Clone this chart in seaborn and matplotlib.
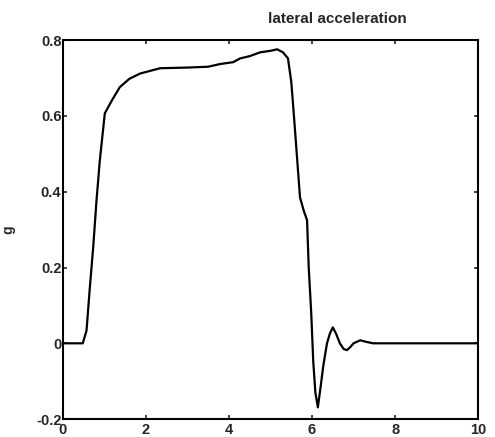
import pandas as pd
import matplotlib
matplotlib.use("Agg")
import matplotlib.pyplot as plt
import seaborn as sns

# time (s) and lateral acceleration (g)
t = [0, 0.48, 0.57, 0.65, 0.73, 0.81, 0.89, 1.01, 1.18, 1.37, 1.6, 1.86,
     2.34, 3.06, 3.5, 3.78, 4.1, 4.27, 4.5, 4.75, 5.0, 5.16, 5.3, 5.42,
     5.5, 5.55, 5.59, 5.71, 5.8, 5.88, 5.92, 5.98, 6.03, 6.08, 6.14, 6.2,
     6.27, 6.36, 6.43, 6.5, 6.58, 6.67, 6.76, 6.84, 6.92, 7.0, 7.16, 7.3,
     7.47, 7.7, 8.0, 10.0]
g = [0, 0, 0.034, 0.148, 0.253, 0.377, 0.483, 0.607, 0.641, 0.676, 0.698, 0.712,
     0.726, 0.728, 0.730, 0.737, 0.742, 0.752, 0.758, 0.768, 0.772, 0.776, 0.768, 0.752,
     0.69, 0.62, 0.562, 0.385, 0.35, 0.325, 0.2, 0.08, -0.05, -0.13, -0.169, -0.12,
     -0.06, 0.0, 0.026, 0.042, 0.025, 0.0, -0.015, -0.018, -0.01, 0.0, 0.008, 0.004,
     0.0, 0.0, 0.0, 0.0]

xticks = [0, 2, 4, 6, 8, 10]
yticks = [-0.2, 0, 0.2, 0.4, 0.6, 0.8]
ytick_labels = ["-0.2", "0", "0.2", "0.4", "0.6", "0.8"]

df = pd.DataFrame({"t": t, "g": g})

sns.set_style("ticks")
plt.rcParams["font.family"] = ["Liberation Sans", "DejaVu Sans"]
plt.rcParams["font.weight"] = "bold"

fig = plt.figure(figsize=(4.95, 4.37), dpi=100)
ax = fig.add_axes([0.127, 0.041, 0.839, 0.867])
sns.lineplot(data=df, x="t", y="g", color="black", linewidth=1.6, ax=ax)

ax.set_xlim(0, 10)
ax.set_ylim(-0.2, 0.8)
ax.set_xticks(xticks)
ax.set_xticklabels([str(v) for v in xticks], fontsize=10.5, fontweight="bold")
ax.set_yticks(yticks)
ax.set_yticklabels(ytick_labels, fontsize=10.5, fontweight="bold")
ax.tick_params(direction="in", length=3, width=1.2, top=True, right=True, pad=1)
ax.tick_params(axis="x", pad=3)
for s in ax.spines.values():
    s.set_visible(True)
    s.set_linewidth(1.5)
    s.set_color("black")

ax.set_xlabel("")
ax.set_ylabel("g", fontsize=10, fontweight="bold")
ax.yaxis.set_label_coords(-0.115, 0.5)
ax.text(6.6, 0.855, "lateral acceleration", ha="center", va="center",
        fontsize=11, fontweight="bold")

fig.savefig("out.png", dpi=100)
